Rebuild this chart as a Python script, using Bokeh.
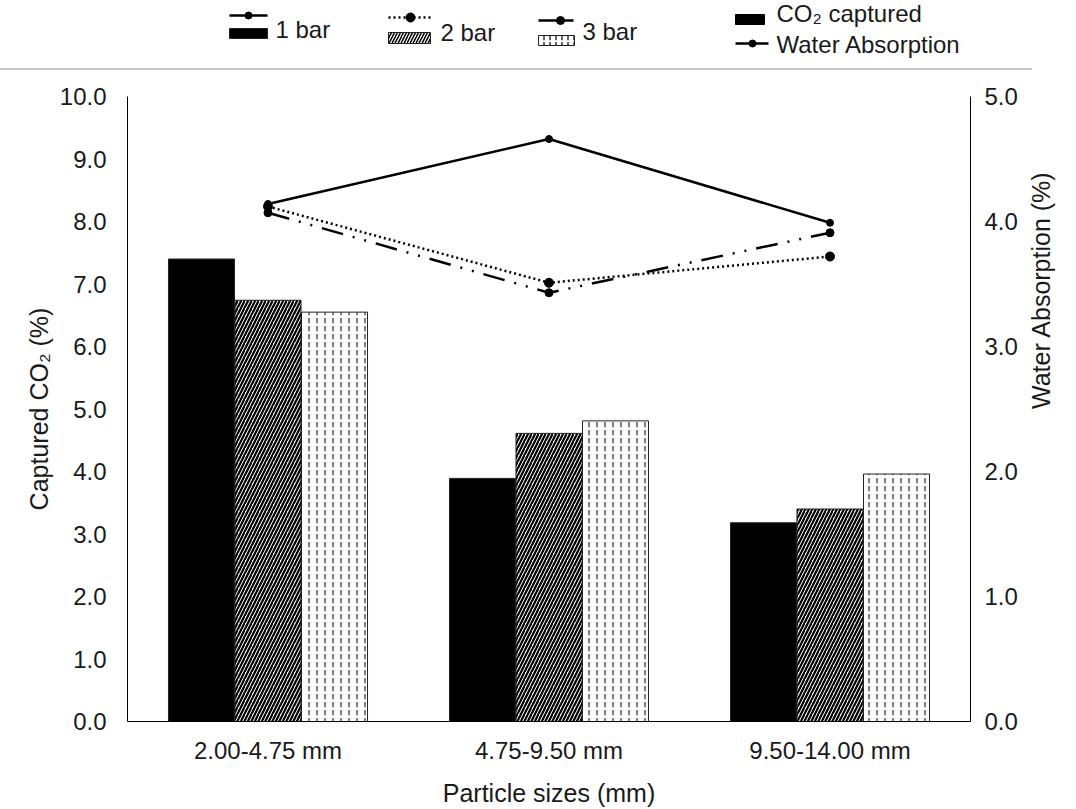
import math
from bokeh.plotting import figure
from bokeh.models import (FactorRange, Range1d, LinearAxis, FixedTicker, NumeralTickFormatter,
                          ColumnDataSource, Div)
from bokeh.transform import dodge
from bokeh.layouts import column
from bokeh.core.properties import value
from bokeh.embed import file_html
from bokeh.resources import INLINE

# ---------------- data ----------------
categories = ["2.00-4.75 mm", "4.75-9.50 mm", "9.50-14.00 mm"]
series = ["1 bar", "2 bar", "3 bar"]
co2_1bar = [7.40, 3.89, 3.18]
co2_2bar = [6.74, 4.61, 3.40]
co2_3bar = [6.55, 4.81, 3.96]
water_1bar = [4.14, 4.66, 3.99]
water_2bar = [4.12, 3.51, 3.72]
water_3bar = [4.07, 3.43, 3.91]
left_ticks = [0, 1, 2, 3, 4, 5, 6, 7, 8, 9, 10]
right_ticks = [0, 1, 2, 3, 4, 5]
kind_labels = ["CO\u2082 captured", "Water Absorption"]

FONT = "Liberation Sans"
TXT = "#1a1a1a"
W = 1076
LEG_H = 68
SEP_H = 2
MAIN_H = 739
FRAME_L, FRAME_R = 127, 970

# ---------------- main chart ----------------
p = figure(width=W, height=MAIN_H,
           x_range=FactorRange(*categories, range_padding=0),
           y_range=Range1d(0, 10),
           output_backend="svg", toolbar_location=None,
           min_border_left=FRAME_L, min_border_right=W - FRAME_R,
           min_border_top=26, min_border_bottom=87)
p.extra_y_ranges = {"water": Range1d(0, 5)}
p.outline_line_color = None
p.xgrid.visible = False
p.ygrid.visible = False
p.background_fill_color = "white"
p.border_fill_color = "white"

src = ColumnDataSource(dict(cat=categories, b1=co2_1bar, b2=co2_2bar, b3=co2_3bar))
bw = 0.235
off = 0.2367
p.vbar(x=dodge("cat", -off, range=p.x_range), top="b1", width=bw, bottom=0, source=src,
       fill_color="black", line_color="#222222", line_width=1)
p.vbar(x=dodge("cat", 0, range=p.x_range), top="b2", width=bw, bottom=0, source=src,
       fill_color="white", line_color="#222222", line_width=1,
       hatch_pattern="right_diagonal_line", hatch_color="black", hatch_scale=7, hatch_weight=2.2)
p.vbar(x=dodge("cat", off, range=p.x_range), top="b3", width=bw, bottom=0, source=src,
       fill_color="white", line_color="#222222", line_width=1,
       hatch_pattern="vertical_dash", hatch_color="#555555", hatch_scale=8, hatch_weight=1.5)

styles = [
    (water_1bar, "solid", 7),
    (water_2bar, "2 3", 9),
    (water_3bar, "22 10 2 10 2 10", 8),
]
for vals, dash, msize in styles:
    p.line(x=categories, y=vals, y_range_name="water", line_color="black",
           line_width=2.5, line_dash=dash)
    p.scatter(x=categories, y=vals, y_range_name="water", marker="circle",
              size=msize, fill_color="black", line_color="black")

# left axis
ya = p.yaxis[0]
ya.ticker = FixedTicker(ticks=left_ticks)
ya.formatter = NumeralTickFormatter(format="0.0")
ya.axis_label = "Captured CO\u2082 (%)"

ra = LinearAxis(y_range_name="water", ticker=FixedTicker(ticks=right_ticks),
                formatter=NumeralTickFormatter(format="0.0"),
                axis_label="Water Absorption (%)")
p.add_layout(ra, "right")

xa = p.xaxis[0]
xa.axis_label = "Particle sizes (mm)"

for ax in [ya, ra, xa]:
    ax.axis_line_color = "black"
    ax.axis_line_width = 1
    ax.major_tick_out = 0
    ax.major_tick_in = 0
    ax.minor_tick_out = 0
    ax.minor_tick_in = 0
    ax.major_tick_line_color = None
    ax.minor_tick_line_color = None
    ax.major_label_text_font = FONT
    ax.major_label_text_font_size = "24px"
    ax.major_label_text_color = TXT
    ax.axis_label_text_font = FONT
    ax.axis_label_text_font_size = "25px"
    ax.axis_label_text_font_style = "normal"
    ax.axis_label_text_color = TXT

ya.major_label_standoff = 21
ya.axis_label_standoff = 4
ra.major_label_standoff = 14
ra.axis_label_standoff = 20
ra.axis_label_orientation = math.pi / 2
xa.major_label_standoff = 15
xa.axis_label_standoff = 12

# ---------------- legend strip ----------------
# its frame is aligned with the main frame, so the x range maps to page pixels
lg = figure(width=W, height=LEG_H, x_range=Range1d(FRAME_L, FRAME_R), y_range=Range1d(LEG_H, 0),
            output_backend="svg", toolbar_location=None, min_border=0,
            x_axis_location=None, y_axis_location=None)
lg.outline_line_color = None
lg.xgrid.visible = False
lg.ygrid.visible = False
lg.border_fill_color = "white"

# series legend entries: line sample above a bar sample
lg.line(x=[229, 267], y=[15, 15], line_color="black", line_width=2.5)
lg.scatter(x=[248], y=[15], size=7, marker="circle", fill_color="black", line_color="black")
lg.quad(left=[229], right=[267], top=[28], bottom=[38], fill_color="black", line_color="#222222")

lg.line(x=[388, 430], y=[17, 17], line_color="black", line_width=2.5, line_dash="2 3")
lg.scatter(x=[410], y=[17], size=9, marker="circle", fill_color="black", line_color="black")
lg.quad(left=[388], right=[430], top=[32], bottom=[43], fill_color="white", line_color="#222222",
        hatch_pattern="right_diagonal_line", hatch_color="black", hatch_scale=6, hatch_weight=1.5)

lg.line(x=[538, 573], y=[20, 20], line_color="black", line_width=2.5)
lg.scatter(x=[560], y=[20], size=8, marker="circle", fill_color="black", line_color="black")
lg.quad(left=[538], right=[574], top=[35], bottom=[45], fill_color="white", line_color="#222222",
        hatch_pattern="vertical_dash", hatch_color="#333333", hatch_scale=6, hatch_weight=1.5)

lg.text(x=[275, 440, 582], y=[29, 32, 31], text=series,
        text_font=value(FONT), text_font_size="24px", text_color=TXT,
        text_baseline="middle", text_align="left")

# kind legend
lg.quad(left=[735], right=[764], top=[14], bottom=[24], fill_color="black", line_color="black")
lg.line(x=[735, 768], y=[43, 43], line_color="black", line_width=2.5)
lg.scatter(x=[752], y=[43], size=7, marker="circle", fill_color="black", line_color="black")
lg.text(x=[776, 776], y=[13, 44], text=kind_labels,
        text_font=value(FONT), text_font_size="24px", text_color=TXT,
        text_baseline="middle", text_align="left")

# separator rule across the page
sep = Div(text="", width=1032, height=SEP_H, margin=0,
          styles={"background-color": "#c8c8c8"})

layout = column(lg, sep, p, spacing=0)
open("out.html", "w").write(file_html(layout, INLINE))
